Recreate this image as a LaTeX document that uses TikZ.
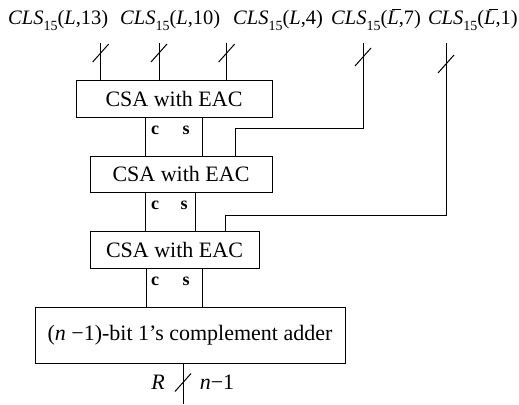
\documentclass[tikz,border=0pt]{standalone}
\usepackage{fontspec}
\setmainfont{Liberation Serif}
\usetikzlibrary{calc}

% CLS_{15}(arg,k) label with a small upright subscript
\newcommand{\clsname}{\textit{CLS}\raisebox{-0.28em}{\fontsize{14}{14}\selectfont 15}}
% italic L with a bar over it
\newcommand{\Lbar}{\makebox[0pt][l]{\hspace{0.22em}\rule[0.74em]{0.46em}{0.05em}}\textit{L}}
% slanted bus-width mark across a vertical wire
\newcommand{\busmark}[1]{\draw[wire] ($(#1)+(-8,9)$) -- ($(#1)+(8,-9)$);}

\begin{document}
\begin{tikzpicture}[x=1pt,y=-1pt,
  every node/.style={font=\fontsize{22}{26}\selectfont},
  blk/.style={draw, line width=1pt, inner sep=0pt},
  wire/.style={line width=1pt},
  cs/.style={font=\fontsize{18}{20}\selectfont\bfseries, inner sep=0pt, anchor=base},
  lbl/.style={anchor=base, inner sep=0pt},
  top/.style={anchor=base west, inner sep=0pt, font=\fontsize{20.5}{24}\selectfont}]
\useasboundingbox (0,0) rectangle (519,404);

% input labels
\node[top] (l1) at (8,25) {\clsname(\textit{L},13)};
\node[top] (l2) at (120,25) {\clsname(\textit{L},10)};
\node[top] (l3) at (233,25) {\clsname(\textit{L},4)};
\node[top] (l4) at (331,25) {\clsname(\Lbar,7)};
\node[top, anchor=base east] (l5) at (518,25) {\clsname(\Lbar,1)};

% blocks
\node[blk, minimum width=196pt, minimum height=36.5pt] (csa1) at (174,98.75) {CSA with EAC};
\node[blk, minimum width=182pt, minimum height=36pt] (csa2) at (181,174) {CSA with EAC};
\node[blk, minimum width=169pt, minimum height=37pt] (csa3) at (174.5,249.5) {CSA with EAC};
\node[blk, minimum width=310pt, minimum height=56pt] (add) at (190,335)
  {(\textit{n} −1)-bit 1's complement adder};

% wire tops and mark positions
\coordinate (t1) at (100.7,43);
\coordinate (t2) at (159,43);
\coordinate (t3) at (226.7,43);
\coordinate (t4) at (363,43);
\coordinate (t5) at (446,43);
\coordinate (b4) at (235.7,128);
\coordinate (b5) at (225.7,215);
\coordinate (out) at (183,404);

% three direct inputs
\foreach \t in {t1,t2,t3} {
  \draw[wire] (\t) -- (\t |- csa1.north);
  \busmark{$(\t)+(0,10)$}
}
% routed inputs
\draw[wire] (t4) |- (b4) -- (b4 |- csa2.north);
\busmark{$(t4)+(0,14)$}
\draw[wire] (t5) |- (b5) -- (b5 |- csa3.north);
\busmark{$(t5)+(0,21)$}

% carry / sum links
\coordinate (c1) at (145,0);   \coordinate (s1) at (202,0);
\coordinate (c2) at (145.7,0); \coordinate (s2) at (195,0);
\coordinate (c3) at (146,0);   \coordinate (s3) at (202.7,0);
\draw[wire] (csa1.south -| c1) -- (csa2.north -| c1);
\draw[wire] (csa1.south -| s1) -- (csa2.north -| s1);
\draw[wire] (csa2.south -| c2) -- (csa3.north -| c2);
\draw[wire] (csa2.south -| s2) -- (csa3.north -| s2);
\draw[wire] (csa3.south -| c3) -- (add.north -| c3);
\draw[wire] (csa3.south -| s3) -- (add.north -| s3);

\node[cs] (cA) at (155,134) {c};  \node[cs] (sA) at (186,134) {s};
\node[cs] (cB) at (155,209) {c};  \node[cs] (sB) at (184,209) {s};
\node[cs] (cC) at (155,285) {c};  \node[cs] (sC) at (186,285) {s};

% result
\draw[wire] (add.south -| out) -- (out);
\busmark{$(add.south -| out)+(0,19)$}
\node[lbl] (r) at (158,389) {\textit{R}};
\node[lbl] (w) at (217,389) {\textit{n}−1};
\end{tikzpicture}
\end{document}
